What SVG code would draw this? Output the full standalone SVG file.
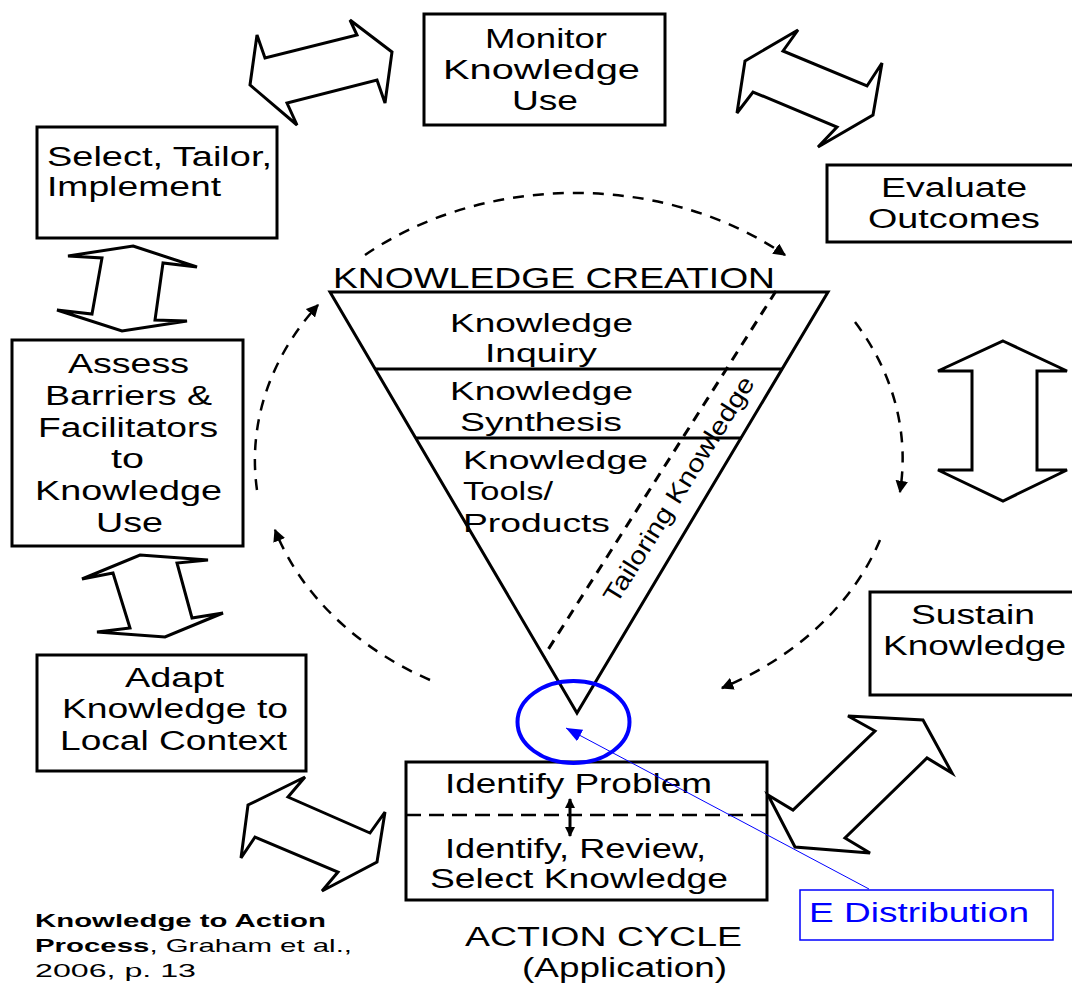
<svg xmlns="http://www.w3.org/2000/svg" width="1072" height="984" viewBox="0 0 1072 984">
<defs>
<style>
.box{fill:#fff;stroke:#000;stroke-width:3}
.t{font-family:"Liberation Sans",Arial,sans-serif;font-size:27px;fill:#000}
.tt{font-family:"Liberation Sans",Arial,sans-serif;font-size:25px;fill:#000}
.c{font-family:"Liberation Sans",Arial,sans-serif;font-size:19px;fill:#000}
.blk{fill:none;stroke:#000;stroke-width:3;stroke-linejoin:miter}
.arc{fill:none;stroke:#000;stroke-width:2.5;stroke-dasharray:11 9}
.blue{fill:none;stroke:#0000ff}
</style>
<marker id="ah" viewBox="0 0 10 10" refX="9" refY="5" markerWidth="5" markerHeight="5" orient="auto" markerUnits="strokeWidth">
<path d="M0,0 L10,5 L0,10 z" fill="#000"/>
</marker>
<marker id="ahs" viewBox="0 0 10 10" refX="9" refY="5" markerWidth="3.5" markerHeight="3.5" orient="auto-start-reverse" markerUnits="strokeWidth">
<path d="M0,0 L10,5 L0,10 z" fill="#000"/>
</marker>
<marker id="ahb" viewBox="0 0 10 10" refX="10" refY="5" markerWidth="16" markerHeight="16" orient="auto" markerUnits="strokeWidth">
<path d="M0,1 L10,5 L0,9 z" fill="#0000ff"/>
</marker>
</defs>
<rect width="1072" height="984" fill="#fff"/>

<g id="knowledge-creation">
<polygon points="330,292 828,292 577,713" fill="#fff" stroke="#000" stroke-width="3"/>
<line x1="375" y1="369" x2="783" y2="369" stroke="#000" stroke-width="3"/>
<line x1="416" y1="438" x2="742" y2="438" stroke="#000" stroke-width="3"/>
<line x1="776" y1="291" x2="544" y2="656" stroke="#000" stroke-width="3" stroke-dasharray="10 8"/>
<text class="t" x="333" y="288" textLength="442" lengthAdjust="spacingAndGlyphs" style="font-size:29px">KNOWLEDGE CREATION</text>
<text class="tt" x="450" y="332" textLength="183" lengthAdjust="spacingAndGlyphs">Knowledge</text>
<text class="tt" x="485" y="362" textLength="112" lengthAdjust="spacingAndGlyphs">Inquiry</text>
<text class="tt" x="450" y="400" textLength="183" lengthAdjust="spacingAndGlyphs">Knowledge</text>
<text class="tt" x="460" y="431" textLength="162" lengthAdjust="spacingAndGlyphs">Synthesis</text>
<text class="tt" x="463" y="469" textLength="185" lengthAdjust="spacingAndGlyphs">Knowledge</text>
<text class="tt" x="463" y="500" textLength="90" lengthAdjust="spacingAndGlyphs">Tools/</text>
<text class="tt" x="463" y="532" textLength="147" lengthAdjust="spacingAndGlyphs">Products</text>
<text class="tt" transform="translate(686,494) rotate(-58)" x="0" y="0" text-anchor="middle" textLength="262" lengthAdjust="spacingAndGlyphs">Tailoring Knowledge</text>
</g>

<g id="monitor">
<rect class="box" x="424" y="14" width="241" height="111"/>
<text class="t" x="485" y="48" textLength="122" lengthAdjust="spacingAndGlyphs">Monitor</text>
<text class="t" x="443" y="79" textLength="197" lengthAdjust="spacingAndGlyphs">Knowledge</text>
<text class="t" x="512" y="110" textLength="66" lengthAdjust="spacingAndGlyphs">Use</text>
</g>

<g id="select">
<rect class="box" x="37" y="127" width="240" height="111"/>
<text class="t" x="47" y="166" textLength="225" lengthAdjust="spacingAndGlyphs">Select, Tailor,</text>
<text class="t" x="47" y="196" textLength="174" lengthAdjust="spacingAndGlyphs">Implement</text>
</g>

<g id="evaluate">
<path class="box" d="M1074,165 H827 V242 H1074"/>
<text class="t" x="881" y="197" textLength="146" lengthAdjust="spacingAndGlyphs">Evaluate</text>
<text class="t" x="868" y="228" textLength="172" lengthAdjust="spacingAndGlyphs">Outcomes</text>
</g>

<g id="assess">
<rect class="box" x="12" y="340" width="231" height="206"/>
<text class="t" x="68" y="373" textLength="121" lengthAdjust="spacingAndGlyphs">Assess</text>
<text class="t" x="45" y="405" textLength="167" lengthAdjust="spacingAndGlyphs">Barriers &amp;</text>
<text class="t" x="38" y="437" textLength="180" lengthAdjust="spacingAndGlyphs">Facilitators</text>
<text class="t" x="111" y="468" textLength="33" lengthAdjust="spacingAndGlyphs">to</text>
<text class="t" x="35" y="500" textLength="187" lengthAdjust="spacingAndGlyphs">Knowledge</text>
<text class="t" x="96" y="532" textLength="67" lengthAdjust="spacingAndGlyphs">Use</text>
</g>

<g id="adapt">
<rect class="box" x="37" y="655" width="269" height="116"/>
<text class="t" x="125" y="687" textLength="99" lengthAdjust="spacingAndGlyphs">Adapt</text>
<text class="t" x="62" y="718" textLength="226" lengthAdjust="spacingAndGlyphs">Knowledge to</text>
<text class="t" x="60" y="750" textLength="227" lengthAdjust="spacingAndGlyphs">Local Context</text>
</g>

<g id="sustain">
<path class="box" d="M1074,592 H870 V695 H1074"/>
<text class="t" x="911" y="624" textLength="124" lengthAdjust="spacingAndGlyphs">Sustain</text>
<text class="t" x="883" y="655" textLength="183" lengthAdjust="spacingAndGlyphs">Knowledge</text>
</g>

<g id="identify">
<rect class="box" x="406" y="762" width="361" height="138"/>
<line x1="406" y1="815" x2="767" y2="815" stroke="#000" stroke-width="2.5" stroke-dasharray="15 8"/>
<text class="t" x="445" y="793" textLength="267" lengthAdjust="spacingAndGlyphs">Identify Problem</text>
<text class="t" x="445" y="858" textLength="261" lengthAdjust="spacingAndGlyphs">Identify, Review,</text>
<text class="t" x="430" y="888" textLength="298" lengthAdjust="spacingAndGlyphs">Select Knowledge</text>
</g>

<g id="distribution-circle">
<ellipse cx="573.5" cy="722" rx="56" ry="41" fill="none" stroke="#0000ff" stroke-width="4"/>
</g>

<g id="e-distribution">
<rect x="800" y="890" width="253" height="50" fill="#fff" stroke="#0000ff" stroke-width="1.5"/>
<text class="t" x="809" y="922" textLength="220" lengthAdjust="spacingAndGlyphs" style="fill:#0000ff">E Distribution</text>
</g>

<g id="action-cycle">
<text class="t" x="465" y="946" textLength="277" lengthAdjust="spacingAndGlyphs">ACTION CYCLE</text>
<text class="t" x="522" y="977" textLength="205" lengthAdjust="spacingAndGlyphs">(Application)</text>
</g>

<g id="citation">
<text class="c" x="35" y="927" textLength="291" lengthAdjust="spacingAndGlyphs" font-weight="bold">Knowledge to Action</text>
<text class="c" x="35" y="952" textLength="317" lengthAdjust="spacingAndGlyphs"><tspan font-weight="bold">Process</tspan>, Graham et al.,</text>
<text class="c" x="35" y="977" textLength="161" lengthAdjust="spacingAndGlyphs">2006, p. 13</text>
</g>

<g id="connectors">
<polygon class="blk" points="257,35 265,58 357,35 350,20 392,52 385,103 377,80 287,103 297,125 250,85"/>
<polygon class="blk" points="745,61 798,30 783,51 867,86 882,63 873,115 818,147 837,127 753,92 737,113"/>
<polygon class="blk" points="1003,341 1067,371 1037,371 1037,470 1067,470 1003,501 938,470 972,470 972,371 938,371"/>
<polygon class="blk" points="848,716 923,720 952,773 927,758 845,838 870,853 795,847 768,795 793,810 875,731"/>
<polygon class="blk" points="305,777 288,797 370,833 385,812 377,862 322,891 338,872 255,837 241,858 248,805"/>
<polygon class="blk" points="133,246 197,267 163,263 155,320 187,321 122,331 57,310 92,314 102,258 68,256"/>
<polygon class="blk" points="140,555 208,560 177,563 192,618 223,613 165,637 97,632 130,628 113,573 82,579"/>
<path class="arc" d="M365,255 A325,262 0 0 1 785,255" marker-end="url(#ah)"/>
<path class="arc" d="M855,322 A325,262 0 0 1 900,492" marker-end="url(#ah)"/>
<path class="arc" d="M880,540 A325,262 0 0 1 722,688" marker-end="url(#ah)"/>
<path class="arc" d="M430,680 A325,262 0 0 1 275,530" marker-end="url(#ah)"/>
<path class="arc" d="M257,490 A325,262 0 0 1 318,305" marker-end="url(#ah)"/>
<line x1="570" y1="799" x2="570" y2="836" stroke="#000" stroke-width="3" marker-start="url(#ahs)" marker-end="url(#ahs)"/>
<line class="blue" x1="869" y1="889" x2="566" y2="728" stroke-width="1" marker-end="url(#ahb)"/>
</g>
</svg>
